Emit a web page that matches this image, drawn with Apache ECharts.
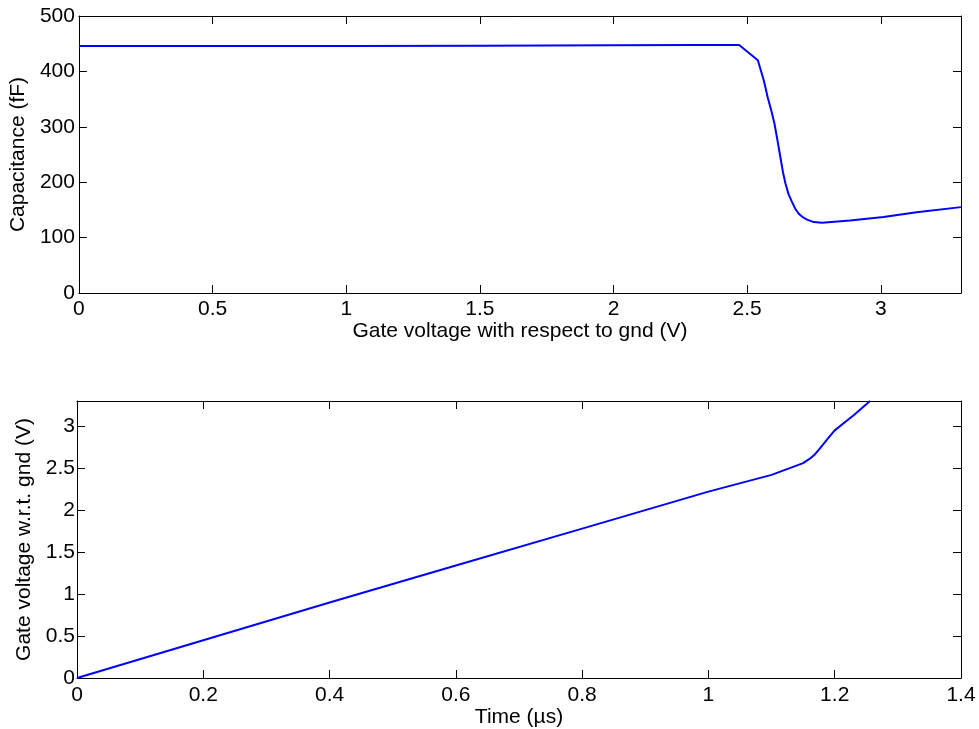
<!DOCTYPE html>
<html>
<head>
<meta charset="utf-8">
<script src="https://cdn.jsdelivr.net/npm/echarts@6/dist/echarts.min.js"></script>
<style>
html,body{margin:0;padding:0;background:#fff;}
#chart{width:979px;height:729px;}
</style>
</head>
<body>
<div id="chart"></div>
<script>
// Top panel: capacitance vs gate voltage
var capVoltage = [0, 0.5, 1, 1.5, 2, 2.3, 2.47, 2.494, 2.54, 2.562, 2.577, 2.590, 2.602, 2.612, 2.624, 2.634, 2.643, 2.655, 2.668, 2.680, 2.693, 2.7075, 2.724, 2.749, 2.78, 2.885, 3.01, 3.134, 3.3];
var capValue   = [446, 446, 446, 446.5, 447, 447.5, 447.5, 438, 420, 384, 353, 330, 306, 279, 246, 218, 198, 178, 164, 152, 143, 137, 132.5, 128, 127, 131, 137, 145.6, 155];
// Bottom panel: gate voltage vs time
var timeUs      = [0, 0.2, 0.4, 0.6, 0.8, 1.0, 1.1, 1.15, 1.16, 1.168, 1.175, 1.19, 1.2, 1.23, 1.256];
var gateVoltage = [0, 0.45, 0.9, 1.34, 1.78, 2.22, 2.42, 2.56, 2.61, 2.66, 2.72, 2.86, 2.95, 3.13, 3.3];

var topX = {min: 0, max: 3.3, interval: 0.5};
var topY = {min: 0, max: 500, interval: 100};
var botX = {min: 0, max: 1.4, interval: 0.2};
var botY = {min: 0, max: 3.3, interval: 0.5};

function pairs(xs, ys){ return xs.map(function(x,i){ return [x, ys[i]]; }); }

var font = 'Liberation Sans, Arial, Helvetica, sans-serif';
var FS = 21;
function label(margin, showMax){
  return {show: true, color: '#000', fontSize: FS, fontFamily: font, margin: margin, showMaxLabel: showMax};
}
function axis(base, extra){
  var o = {
    type: 'value', min: base.min, max: base.max, interval: base.interval,
    splitLine: {show: false},
    axisLine: {show: true, onZero: false, lineStyle: {color: '#000', width: 1}},
    axisTick: {show: true, inside: true, length: 8, lineStyle: {color: '#000', width: 1}},
    axisLabel: {show: false},
    nameTextStyle: {color: '#000', fontSize: FS, fontFamily: font},
    nameLocation: 'middle'
  };
  for (var k in extra) o[k] = extra[k];
  return o;
}

var chart = echarts.init(document.getElementById('chart'));
chart.setOption({
  animation: false,
  backgroundColor: '#fff',
  grid: [
    {left: 77, top: 16, width: 884, height: 277},
    {left: 77, top: 401, width: 884, height: 277}
  ],
  xAxis: [
    axis(topX, {gridIndex: 0, position: 'bottom', name: 'Gate voltage with respect to gnd (V)', nameGap: 25, axisLabel: label(6, false)}),
    axis(topX, {gridIndex: 0, position: 'top'}),
    axis(botX, {gridIndex: 1, position: 'bottom', name: 'Time (\u00b5s)', nameGap: 25, axisLabel: label(7, true)}),
    axis(botX, {gridIndex: 1, position: 'top'})
  ],
  yAxis: [
    axis(topY, {gridIndex: 0, position: 'left', name: 'Capacitance (fF)', nameGap: 40, axisLabel: label(4, true)}),
    axis(topY, {gridIndex: 0, position: 'right'}),
    axis(botY, {gridIndex: 1, position: 'left', name: 'Gate voltage w.r.t. gnd (V)', nameGap: 34, axisLabel: label(2, false)}),
    axis(botY, {gridIndex: 1, position: 'right'})
  ],
  series: [
    {type: 'line', xAxisIndex: 0, yAxisIndex: 0, data: pairs(capVoltage, capValue),
     showSymbol: false, symbol: 'none', clip: true, lineStyle: {color: '#0000ff', width: 2}},
    {type: 'line', xAxisIndex: 2, yAxisIndex: 2, data: pairs(timeUs, gateVoltage),
     showSymbol: false, symbol: 'none', clip: true, lineStyle: {color: '#0000ff', width: 2}}
  ]
});
</script>
</body>
</html>
